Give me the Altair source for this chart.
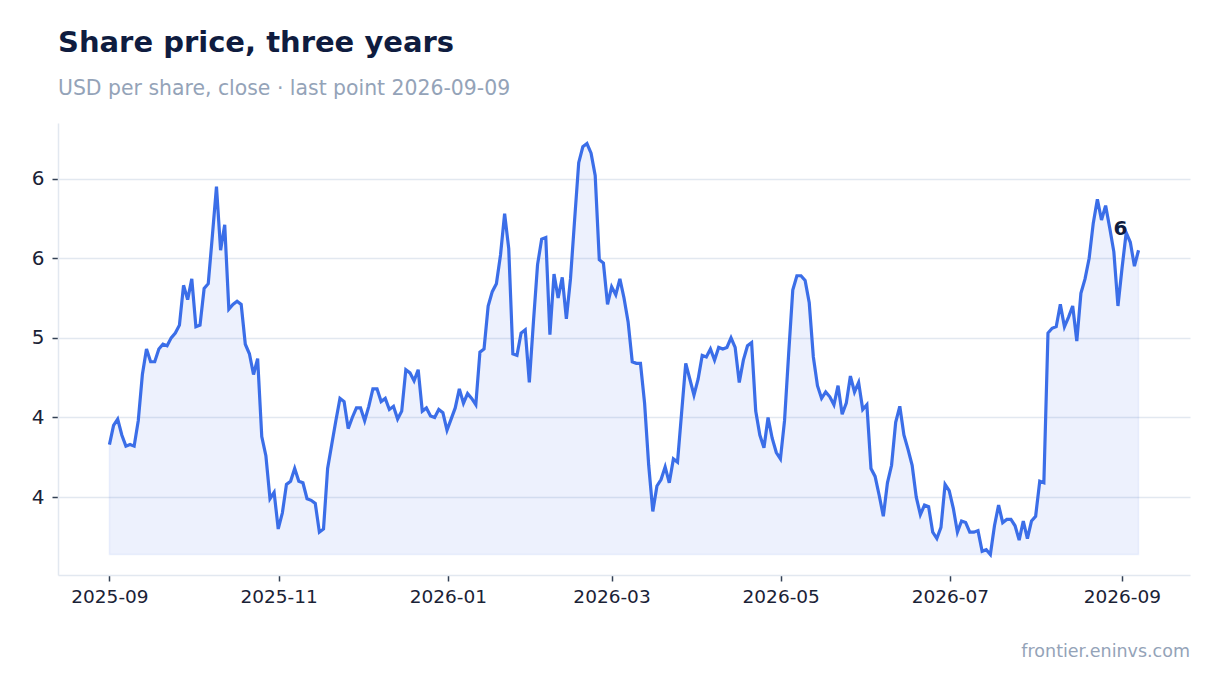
import pandas as pd
import altair as alt

# chart text
title = "Share price, three years"
subtitle = "USD per share, close \u00b7 last point 2026-09-09"
source = "frontier.eninvs.com"

# first and last point of the series (points are evenly spaced in between)
first_day = "2025-09-01"
last_day = "2026-09-07"

# closing price left to right
close_sep_oct = [
    4.33, 4.45, 4.49, 4.39, 4.32, 4.33, 4.32, 4.48, 4.77, 4.93,
    4.85, 4.85, 4.93, 4.96, 4.95, 5.00, 5.03, 5.08, 5.33, 5.24,
    5.37, 5.07, 5.08, 5.31, 5.34, 5.64, 5.95, 5.55, 5.71, 5.18,
    5.21, 5.23, 5.21, 4.96, 4.90, 4.77, 4.87, 4.38, 4.26, 3.99,
    4.03, 3.80, 3.90, 4.08, 4.10,
]
close_nov_dec = [
    4.18, 4.10, 4.09, 3.99, 3.98, 3.96, 3.78, 3.80, 4.18, 4.33,
    4.48, 4.62, 4.60, 4.43, 4.50, 4.56, 4.56, 4.48, 4.57, 4.68,
    4.68, 4.60, 4.62, 4.55, 4.57, 4.49, 4.54, 4.80, 4.78, 4.73,
    4.80, 4.54, 4.56, 4.51, 4.50, 4.55, 4.53, 4.42, 4.49, 4.56,
    4.68, 4.59, 4.65,
]
close_jan_mar = [
    4.62, 4.58, 4.91, 4.93, 5.20, 5.29, 5.34, 5.52, 5.78, 5.56,
    4.90, 4.89, 5.03, 5.05, 4.72, 5.10, 5.46, 5.62, 5.63, 5.02,
    5.40, 5.25, 5.38, 5.12, 5.37, 5.74, 6.10, 6.20, 6.22, 6.16,
    6.02, 5.49, 5.47, 5.21, 5.32, 5.27, 5.37, 5.25, 5.10, 4.85,
    4.84, 4.84, 4.59, 4.20,
]
close_mar_may = [
    3.91, 4.07, 4.11, 4.19, 4.09, 4.24, 4.22, 4.53, 4.84, 4.74,
    4.64, 4.74, 4.89, 4.88, 4.93, 4.86, 4.94, 4.93, 4.94, 5.00,
    4.94, 4.72, 4.86, 4.95, 4.97, 4.54, 4.39, 4.31, 4.50, 4.37,
    4.28, 4.24, 4.48, 4.90, 5.30, 5.39, 5.39, 5.36, 5.22, 4.88,
    4.70, 4.62, 4.66, 4.63,
]
close_may_jul = [
    4.58, 4.70, 4.52, 4.59, 4.76, 4.66, 4.72, 4.55, 4.58, 4.18,
    4.13, 4.01, 3.88, 4.09, 4.20, 4.47, 4.57, 4.39, 4.30, 4.20,
    4.00, 3.89, 3.95, 3.94, 3.78, 3.74, 3.81, 4.08, 4.04, 3.93,
    3.78, 3.85, 3.84, 3.78, 3.78, 3.79, 3.66, 3.67, 3.64, 3.82,
    3.95, 3.84, 3.86, 3.86,
]
close_aug_sep = [
    3.82, 3.73, 3.85, 3.74, 3.85, 3.88, 4.10, 4.09, 5.03, 5.06,
    5.07, 5.21, 5.07, 5.13, 5.20, 4.98, 5.28, 5.37, 5.50, 5.72,
    5.87, 5.74, 5.83, 5.69, 5.54, 5.20, 5.44, 5.66, 5.60, 5.45,
    5.55,
]

y_ticks = [4.0, 4.5, 5.0, 5.5, 6.0]
x_ticks = ["2025-09-01", "2025-11-01", "2026-01-01", "2026-03-01",
           "2026-05-01", "2026-07-01", "2026-09-01"]

FONT = "DejaVu Sans"
LINE = "#3b6ee8"
INK = "#0f1c3f"
MUTED = "#94a3b8"
RULE = "#e2e8f0"

W, H = 1132, 452


def dt(ts):
    return alt.DateTime(year=ts.year, month=ts.month, date=ts.day,
                        hours=ts.hour, minutes=ts.minute)


def build():
    close = (close_sep_oct + close_nov_dec + close_jan_mar
             + close_mar_may + close_may_jul + close_aug_sep)
    dates = pd.date_range(first_day, last_day, periods=len(close))
    df = pd.DataFrame({"date": dates, "close": close})

    lo, hi = min(close), max(close)
    pad = (hi - lo) * 0.05
    tpad = (dates[-1] - dates[0]) * 0.05

    x = alt.X(
        "date:T",
        scale=alt.Scale(domain=[dt(dates[0] - tpad), dt(dates[-1] + tpad)]),
        axis=alt.Axis(
            title=None, format="%Y-%m", grid=False,
            values=[dt(pd.Timestamp(v)) for v in x_ticks],
            labelFontSize=18.5, labelPadding=6,
        ),
    )
    y = alt.Y(
        "close:Q",
        scale=alt.Scale(domain=[lo - pad, hi + pad], zero=False, nice=False),
        axis=alt.Axis(
            title=None, values=y_ticks, grid=True,
            labelFontSize=20, labelPadding=8,
            # half-way values round to the even integer
            labelExpr="(datum.value % 1 == 0.5 && floor(datum.value) % 2 == 0)"
                      " ? toString(floor(datum.value)) : format(datum.value, '.0f')",
        ),
    )

    area = alt.Chart(df).mark_area(
        color=LINE, fillOpacity=0.095, stroke=LINE, strokeOpacity=0.08, strokeWidth=1.5
    ).encode(x=x, y=y, y2=alt.datum(lo))

    line = alt.Chart(df).mark_line(color=LINE, strokeWidth=3.2).encode(x=x, y=y)

    last = alt.Chart(df.tail(1)).mark_text(
        font=FONT, fontSize=20, fontWeight="bold", color=INK,
        align="right", baseline="alphabetic", dx=-11, dy=-15,
    ).encode(x=x, y=y, text=alt.Text("close:Q", format=".0f"))

    foot = alt.Chart(pd.DataFrame({"t": [source]})).mark_text(
        font=FONT, fontSize=17.5, color=MUTED, align="right", baseline="alphabetic",
    ).encode(x=alt.value(W), y=alt.value(H + 82), text="t:N")

    chart = (area + line + last + foot).properties(
        width=W, height=H,
        autosize=alt.AutoSizeParams(type="none"),
        padding={"left": 50, "top": 115, "right": 22, "bottom": 100},
        title=alt.TitleParams(
            text=title, subtitle=subtitle, anchor="start", frame="group",
            font=FONT, fontSize=29, fontWeight="bold", color=INK,
            subtitleFont=FONT, subtitleFontSize=20.4, subtitleColor=MUTED,
            subtitlePadding=21, offset=24,
        ),
    ).configure_view(
        stroke=None
    ).configure_axis(
        labelFont=FONT, labelColor="#1a2236",
        domainColor=RULE, domainWidth=1.5,
        gridColor=RULE, gridWidth=1.5,
        tickColor="#334155", tickSize=6, tickWidth=1.5,
    )
    return chart


def main():
    chart = build()
    chart.save("out.html", embed_options={"renderer": "svg", "actions": False})


if __name__ == "__main__":
    main()
